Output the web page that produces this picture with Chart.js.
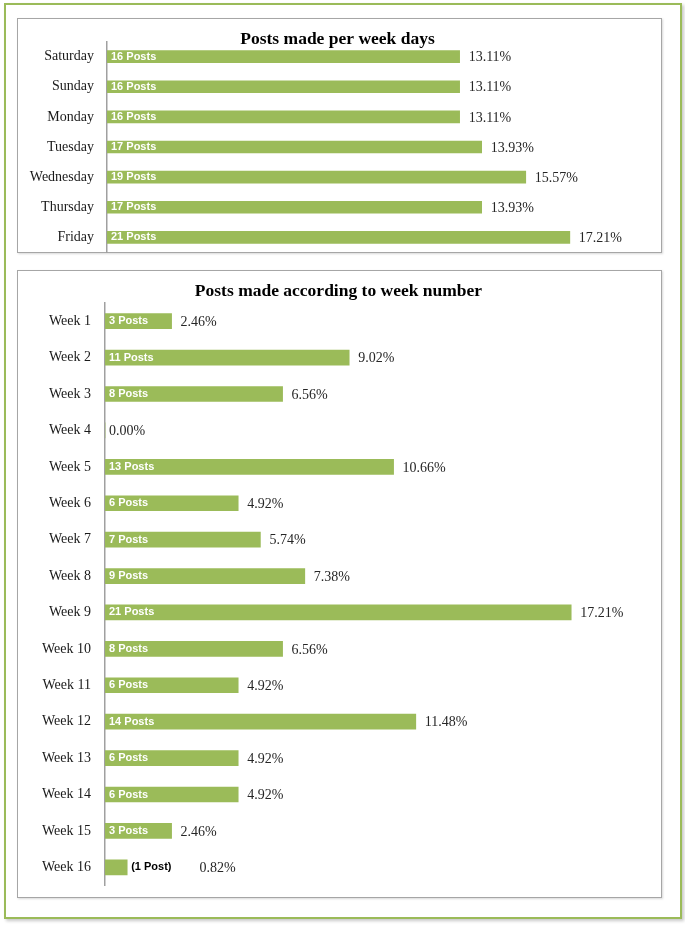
<!DOCTYPE html>
<html>
<head>
<meta charset="utf-8">
<script src="https://cdn.jsdelivr.net/npm/chart.js@4/dist/chart.umd.min.js"></script>
<style>
  html, body { margin: 0; padding: 0; background: #ffffff; }
  body { width: 685px; height: 926px; position: relative; overflow: hidden; }
  #frame { position: absolute; left: 4px; top: 3px; width: 674px; height: 912px;
           border: 2px solid #9bbb59; box-shadow: 2px 2px 3px #c8c8c8; }
  .box { position: absolute; left: 17px; width: 643px; border: 1px solid #a6a6a6;
         box-shadow: 1px 1px 2px #d8d8d8; }
  #box1 { top: 18px; height: 233px; }
  #box2 { top: 270px; height: 626px; }
  canvas { position: absolute; }
  #c1 { left: 17px; top: 19px; }
  #c2 { left: 17px; top: 271px; }
</style>
</head>
<body>
<div id="frame"></div>
<div class="box" id="box1"></div>
<div class="box" id="box2"></div>
<canvas id="c1" width="644" height="235"></canvas>
<canvas id="c2" width="644" height="626"></canvas>
<script>
// ---- Data ----
const dayLabels = ['Saturday', 'Sunday', 'Monday', 'Tuesday', 'Wednesday', 'Thursday', 'Friday'];
const dayPosts = [16, 16, 16, 17, 19, 17, 21];
const dayPercents = ['13.11%', '13.11%', '13.11%', '13.93%', '15.57%', '13.93%', '17.21%'];

const weekLabels = ['Week 1', 'Week 2', 'Week 3', 'Week 4', 'Week 5', 'Week 6', 'Week 7', 'Week 8',
                    'Week 9', 'Week 10', 'Week 11', 'Week 12', 'Week 13', 'Week 14', 'Week 15', 'Week 16'];
const weekPosts = [3, 11, 8, 0, 13, 6, 7, 9, 21, 8, 6, 14, 6, 6, 3, 1];
const weekPercents = ['2.46%', '9.02%', '6.56%', '0.00%', '10.66%', '4.92%', '5.74%', '7.38%',
                      '17.21%', '6.56%', '4.92%', '11.48%', '4.92%', '4.92%', '2.46%', '0.82%'];

const titleDays = 'Posts made per week days';
const titleWeeks = 'Posts made according to week number';

const BAR_GREEN = '#9bbb59';
const SERIF = '"Liberation Serif", "Times New Roman", serif';
const SANS = '"Liberation Sans", Arial, sans-serif';

function countText(n) {
  if (n === 0) return '';
  if (n === 1) return '(1 Post)';
  return n + ' Posts';
}

function makeLabelPlugin(posts, percents) {
  return {
    id: 'barLabels',
    afterDatasetsDraw(chart) {
      const ctx = chart.ctx;
      const meta = chart.getDatasetMeta(0);
      meta.data.forEach((bar, i) => {
        const v = posts[i];
        const txt = countText(v);
        ctx.save();
        ctx.textBaseline = 'middle';
        ctx.textAlign = 'left';
        ctx.font = 'bold 11px ' + SANS;
        const tw = ctx.measureText(txt).width;
        let px;
        if (v === 0) {
          px = bar.base + 4;
        } else if (tw + 8 <= bar.x - bar.base) {
          ctx.fillStyle = '#ffffff';
          ctx.fillText(txt, bar.base + 4, bar.y);
          px = bar.x + 9;
        } else {
          ctx.fillStyle = '#000000';
          ctx.fillText(txt, bar.x + 4, bar.y);
          px = bar.x + 4 + tw + 28;
        }
        ctx.font = '14px ' + SERIF;
        ctx.fillStyle = '#262626';
        ctx.fillText(percents[i], px, bar.y + 1);
        ctx.restore();
      });
    }
  };
}

function makeChart(id, labels, posts, percents, title, cfg) {
  return new Chart(document.getElementById(id), {
    type: 'bar',
    data: {
      labels: labels,
      datasets: [{
        data: posts,
        backgroundColor: BAR_GREEN,
        borderWidth: 0,
        barThickness: cfg.barThickness
      }]
    },
    options: {
      indexAxis: 'y',
      responsive: false,
      animation: false,
      devicePixelRatio: 1,
      layout: { padding: { left: 0, right: cfg.padRight, top: 0, bottom: cfg.padBottom } },
      plugins: {
        legend: { display: false },
        tooltip: { enabled: false },
        title: {
          display: true,
          text: title,
          color: '#000000',
          font: { family: SERIF, size: 17.5, weight: 'bold', lineHeight: 1.2 },
          padding: { top: cfg.titleTop, bottom: cfg.titleBottom }
        }
      },
      scales: {
        x: { display: false, min: 0, max: 25 },
        y: {
          afterFit: (s) => { s.width = cfg.axisX; s.paddingTop = 0; s.paddingBottom = 0; },
          grid: { display: false, drawTicks: false },
          border: { display: true, color: '#a0a0a0', width: 1.5 },
          ticks: { color: '#1a1a1a', padding: cfg.tickPad, font: { family: SERIF, size: 14 } }
        }
      }
    },
    plugins: [makeLabelPlugin(posts, percents)]
  });
}

// title line height = 17.5 * 1.2 = 21
makeChart('c1', dayLabels, dayPosts, dayPercents, titleDays,
  { barThickness: 12, padRight: 3, padBottom: 1.5, titleTop: 9.5, titleBottom: -8, axisX: 90, tickPad: 13 });
makeChart('c2', weekLabels, weekPosts, weekPercents, titleWeeks,
  { barThickness: 15, padRight: 1, padBottom: 11.5, titleTop: 9.5, titleBottom: 1.5, axisX: 88, tickPad: 14 });
</script>
</body>
</html>
